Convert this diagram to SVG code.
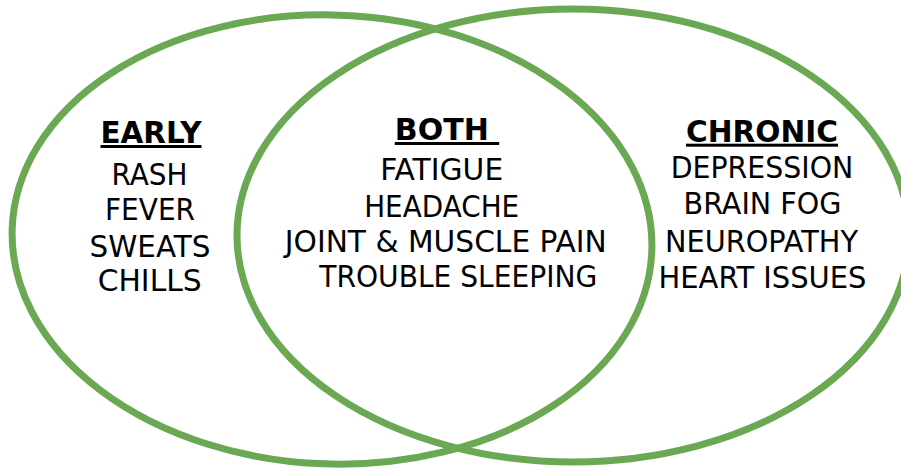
<svg xmlns="http://www.w3.org/2000/svg" width="901" height="470" viewBox="0 0 901 470">
<style>
.ring{fill:none;stroke:#6aa853;stroke-width:7}
text{font-family:"DejaVu Sans","Verdana",sans-serif;font-size:30px;fill:#000;text-anchor:middle}
.h{font-weight:bold;text-decoration:underline}
</style>
<rect width="901" height="470" fill="#fff"/>
<g id="connectors"></g>
<g id="early-set">
<ellipse class="ring" cx="332" cy="239.5" rx="320" ry="224.5" transform="rotate(2 332 239.5)"/>
</g>
<g id="chronic-set">
<ellipse class="ring" cx="573" cy="235.5" rx="336" ry="226.5"/>
</g>
<g id="early-label">
<text class="h" x="151" y="143" textLength="101" lengthAdjust="spacingAndGlyphs">EARLY</text>
<text x="149.5" y="185" textLength="76" lengthAdjust="spacingAndGlyphs">RASH</text>
<text x="150" y="219.5" textLength="90" lengthAdjust="spacingAndGlyphs">FEVER</text>
<text x="150" y="256.5" textLength="121" lengthAdjust="spacingAndGlyphs">SWEATS</text>
<text x="149.7" y="291" textLength="104" lengthAdjust="spacingAndGlyphs">CHILLS</text>
</g>
<g id="both-label">
<text class="h" x="447" y="140" xml:space="preserve">BOTH </text>
<text x="441.7" y="180" textLength="123" lengthAdjust="spacingAndGlyphs">FATIGUE</text>
<text x="441.7" y="216.5" textLength="155" lengthAdjust="spacingAndGlyphs">HEADACHE</text>
<text x="445.8" y="251.7" textLength="322" lengthAdjust="spacingAndGlyphs">JOINT &amp; MUSCLE PAIN</text>
<text x="458.3" y="286.7" textLength="278" lengthAdjust="spacingAndGlyphs">TROUBLE SLEEPING</text>
</g>
<g id="chronic-label">
<text class="h" x="762" y="141.7" textLength="152" lengthAdjust="spacingAndGlyphs">CHRONIC</text>
<text x="762" y="177.7" textLength="182.7" lengthAdjust="spacingAndGlyphs">DEPRESSION</text>
<text x="762.5" y="214" textLength="158" lengthAdjust="spacingAndGlyphs">BRAIN FOG</text>
<text x="761.5" y="251.7" textLength="193" lengthAdjust="spacingAndGlyphs">NEUROPATHY</text>
<text x="762.5" y="288.3" textLength="208" lengthAdjust="spacingAndGlyphs">HEART ISSUES</text>
</g>
</svg>
